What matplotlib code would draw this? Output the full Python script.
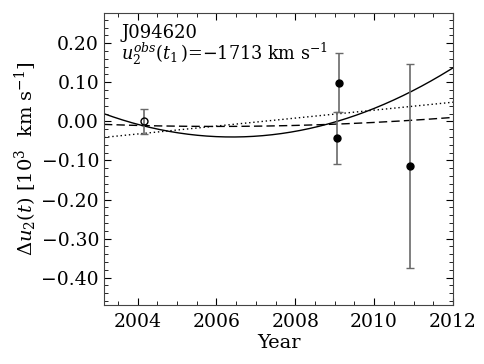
import numpy as np
import matplotlib
matplotlib.use("Agg")
import matplotlib.pyplot as plt
from matplotlib.ticker import MultipleLocator

plt.rcParams['font.family'] = ['DejaVu Serif']
plt.rcParams['mathtext.fontset'] = 'dejavuserif'

# data
open_t = [2004.17]
open_v = [0.0]
open_e = [0.032]
fill_t = [2009.11, 2009.06, 2010.90]
fill_v = [0.099, -0.043, -0.114]
fill_e = [0.076, 0.067, 0.261]

# model curve parameters
solid_a, solid_t0, solid_c = 0.00564, 2006.4, -0.040
dash_a, dash_t0, dash_c = 0.00064, 2006.0, -0.013
dot_t0, dot_v0, dot_slope = 2003.15, -0.041, 0.01017

fig = plt.figure(figsize=(4.85, 3.64), dpi=100)
ax = fig.add_axes([0.2144, 0.162, 0.934 - 0.2144, 0.964 - 0.162])

t = np.linspace(2003.15, 2012.0, 300)
ax.plot(t, solid_a * (t - solid_t0) ** 2 + solid_c, color='black', lw=1.0, ls='-')
ax.plot(t, dash_a * (t - dash_t0) ** 2 + dash_c, color='black', lw=1.0, ls=(0, (6, 3)))
ax.plot(t, dot_v0 + dot_slope * (t - dot_t0), color='black', lw=1.0, ls=(0, (1, 2)))

ax.errorbar(open_t, open_v, yerr=open_e, fmt='o', mfc='none', mec='black', ms=5,
            ecolor='dimgray', elinewidth=1.2, capsize=3, capthick=1.0, mew=1.0)
ax.errorbar(fill_t, fill_v, yerr=fill_e, fmt='o', mfc='black', mec='black', ms=5,
            ecolor='dimgray', elinewidth=1.2, capsize=3, capthick=1.0)

ax.set_xlim(2003.15, 2012.0)
ax.set_ylim(-0.47, 0.277)
ax.xaxis.set_major_locator(MultipleLocator(2))
ax.xaxis.set_minor_locator(MultipleLocator(0.5))
ax.yaxis.set_major_locator(MultipleLocator(0.1))
ax.yaxis.set_minor_locator(MultipleLocator(0.02))
ax.set_yticks([0.2, 0.1, 0.0, -0.1, -0.2, -0.3, -0.4])
ax.set_yticklabels(['0.20', '0.10', '0.00', '\u22120.10', '\u22120.20', '\u22120.30', '\u22120.40'])
ax.set_xticks([2004, 2006, 2008, 2010, 2012])
ax.set_xticklabels(['2004', '2006', '2008', '2010', '2012'])
ax.tick_params(which='both', direction='in', top=True, right=True, labelsize=13.5)
ax.tick_params(which='major', length=5, width=0.8)
ax.tick_params(which='minor', length=3, width=0.6)
ax.tick_params(axis='x', which='major', pad=6)
for s in ax.spines.values():
    s.set_color('#444444')

ax.set_xlabel('Year', fontsize=14, labelpad=2)
ax.set_ylabel(r'$\Delta u_2(t)$ [10$^3$  km s$^{-1}$]', fontsize=14, labelpad=2)

ax.text(0.05, 0.915, 'J094620', transform=ax.transAxes, fontsize=13, va='baseline', ha='left')
ax.text(0.05, 0.84, r'$u_2^{obs}(t_1\,)$=$-$1713 km s$^{-1}$', transform=ax.transAxes,
        fontsize=12.7, va='baseline', ha='left')

fig.savefig('out.png', dpi=100)
